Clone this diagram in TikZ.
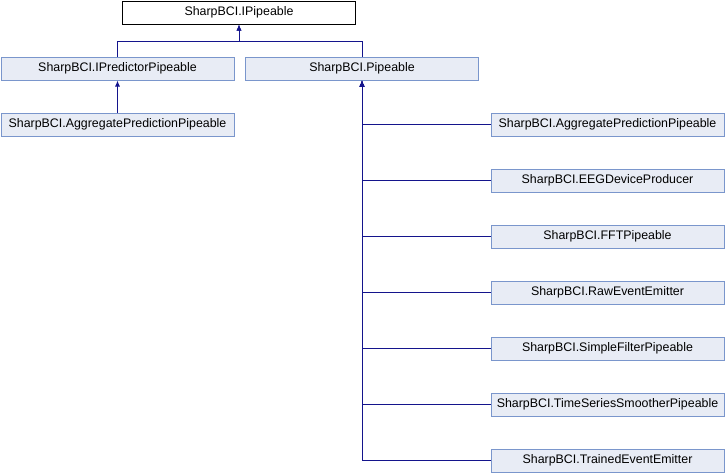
\documentclass[tikz,border=0pt]{standalone}
\usepackage{fontspec}
\setmainfont{Liberation Sans}
\usepackage{xcolor}
\usepackage{tikz}
\usetikzlibrary{arrows.meta,positioning}

\definecolor{boxfill}{RGB}{232,236,245}
\definecolor{boxline}{RGB}{122,150,204}
\definecolor{edgeblue}{RGB}{20,20,140}

\begin{document}
\begin{tikzpicture}[
  x=1pt, y=-1pt,
  cls/.style={
    rectangle,
    draw=boxline,
    line width=1pt,
    fill=boxfill,
    align=center,
    inner sep=0pt,
    minimum width=233pt,
    minimum height=23pt,
    font=\fontsize{12.4}{14}\selectfont
  },
  link/.style={{Latex[length=6pt,width=5pt]}-, line width=1pt, draw=edgeblue}
]
\useasboundingbox (0,0) rectangle (725,472);

\node[cls, draw=black, fill=white] (ipipe) at (239,12.5) {SharpBCI.IPipeable};
\node[cls] (ipred) at (117.5,68.5) {SharpBCI.IPredictorPipeable};
\node[cls] (pipe) at (362,68.5) {SharpBCI.Pipeable};
\node[cls] (aggleft) at (117.5,124.5) {SharpBCI.AggregatePredictionPipeable};

\node[cls] (aggright) at (607.5,124.5) {SharpBCI.AggregatePredictionPipeable};
\node[cls] (eeg) at (607.5,180.5) {SharpBCI.EEGDeviceProducer};
\node[cls] (fft) at (607.5,236.5) {SharpBCI.FFTPipeable};
\node[cls] (raw) at (607.5,292.5) {SharpBCI.RawEventEmitter};
\node[cls] (filter) at (607.5,348.5) {SharpBCI.SimpleFilterPipeable};
\node[cls] (smoother) at (607.5,404.5) {SharpBCI.TimeSeriesSmootherPipeable};
\node[cls] (trained) at (607.5,460.5) {SharpBCI.TrainedEventEmitter};

\coordinate (bar) at (239,41);

\draw[link] (ipipe.south) -- (bar) -| (ipred.north);
\draw[link] (ipipe.south) -- (bar) -| (pipe.north);
\draw[link] (ipred.south) -- (aggleft.north);

\draw[link] (pipe.south) |- (aggright.west);
\draw[link] (pipe.south) |- (eeg.west);
\draw[link] (pipe.south) |- (fft.west);
\draw[link] (pipe.south) |- (raw.west);
\draw[link] (pipe.south) |- (filter.west);
\draw[link] (pipe.south) |- (smoother.west);
\draw[link] (pipe.south) |- (trained.west);

\end{tikzpicture}
\end{document}
